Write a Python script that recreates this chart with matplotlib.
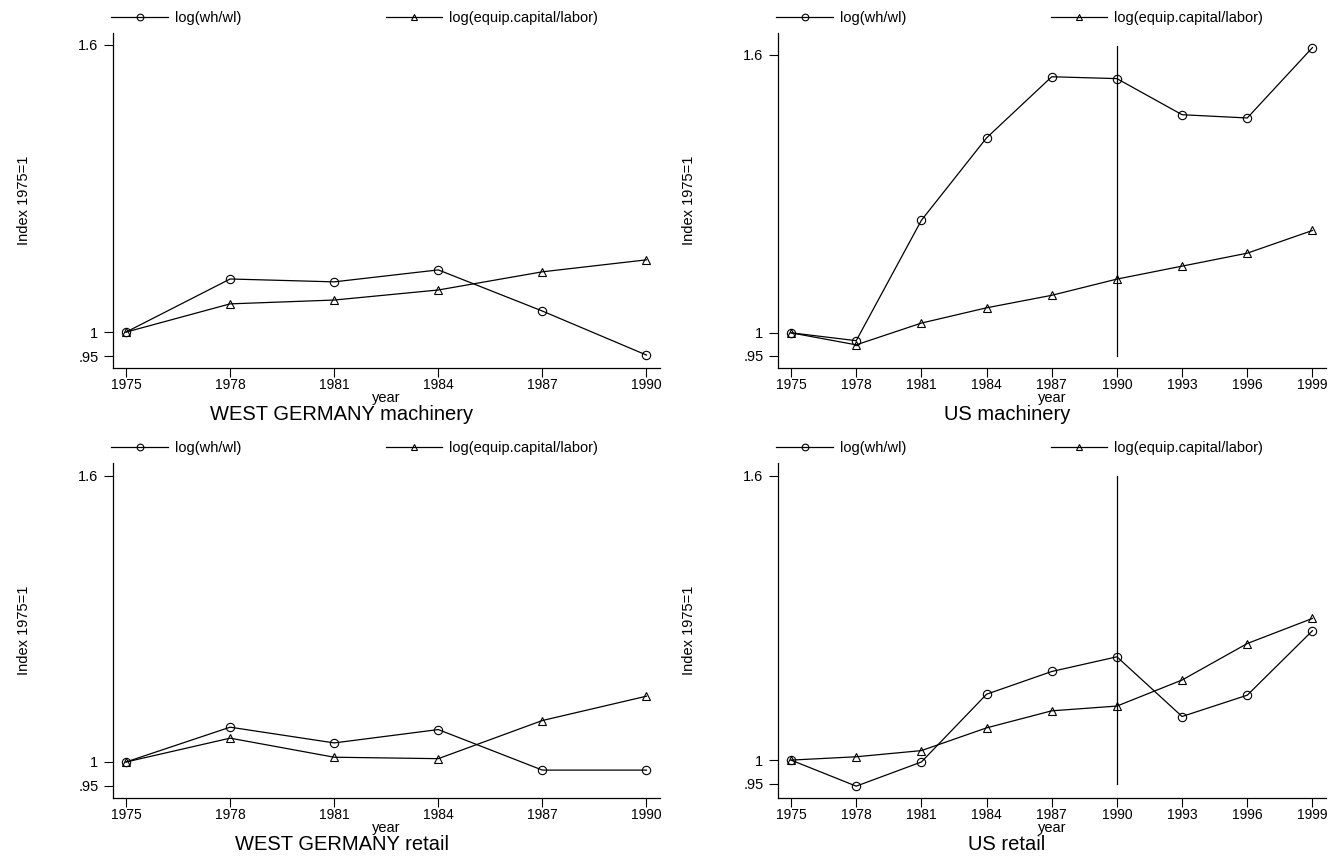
import numpy as np
import matplotlib
matplotlib.use("Agg")
import matplotlib.pyplot as plt

plt.rcParams['font.family'] = ['Liberation Sans', 'DejaVu Sans']

# ── data (index 1975=1) ───────────────────────────────────────────────────────

years_de = [1975, 1978, 1981, 1984, 1987, 1990]
years_us = [1975, 1978, 1981, 1984, 1987, 1990, 1993, 1996, 1999]

de_mach_whwl = [1.000, 1.111, 1.105, 1.130, 1.044, 0.952]
de_mach_equip = [1.000, 1.059, 1.067, 1.088, 1.126, 1.151]

us_mach_whwl = [1.000, 0.983, 1.243, 1.421, 1.553, 1.549, 1.471, 1.464, 1.616]
us_mach_equip = [1.000, 0.974, 1.021, 1.054, 1.081, 1.116, 1.144, 1.172, 1.221]

de_ret_whwl = [1.000, 1.073, 1.040, 1.068, 0.983, 0.983]
de_ret_equip = [1.000, 1.050, 1.010, 1.007, 1.087, 1.138]

us_ret_whwl = [1.000, 0.945, 0.996, 1.139, 1.187, 1.218, 1.092, 1.137, 1.273]
us_ret_equip = [1.000, 1.007, 1.020, 1.068, 1.104, 1.114, 1.169, 1.246, 1.299]

titles = ["WEST GERMANY machinery", "US machinery",
          "WEST GERMANY retail", "US retail"]
series_labels = ["log(wh/wl)", "log(equip.capital/labor)"]
ytick_vals = [0.95, 1.0, 1.6]
ytick_text = [".95", "1", "1.6"]
vline_year = 1990
vline_span = {1: (0.95, 1.62), 3: (0.95, 1.60)}

panels = [
    (years_de, de_mach_whwl, de_mach_equip),
    (years_us, us_mach_whwl, us_mach_equip),
    (years_de, de_ret_whwl, de_ret_equip),
    (years_us, us_ret_whwl, us_ret_equip),
]

# ── layout (pixel positions of the reference) ─────────────────────────────────

W, H = 1330, 857
fig = plt.figure(figsize=(W / 100, H / 100), dpi=100)

ax_left = [113, 778]
ax_right = [660, 1326]
ax_top = [33, 463]
ax_bot = [368, 798]
title_x = [342, 1007]      # titles sit centred on the whole panel, not the plot
title_y = [415, 845]
ylims = [(0.925, 1.625), (0.924, 1.6475), (0.9245, 1.627), (0.92, 1.627)]

for i, (years, whwl, equip) in enumerate(panels):
    col, row = i % 2, i // 2
    l, r = ax_left[col], ax_right[col]
    t, b = ax_top[row], ax_bot[row]
    ax = fig.add_axes([l / W, 1 - b / H, (r - l) / W, (b - t) / H])

    ax.plot(years, whwl, color='black', lw=0.9, marker='o', ms=6,
            mfc='none', mec='black', mew=0.8, label=series_labels[0])
    ax.plot(years, equip, color='black', lw=0.9, marker='^', ms=6,
            mfc='none', mec='black', mew=0.8, label=series_labels[1])

    if i in vline_span:
        lo, hi = vline_span[i]
        ax.plot([vline_year, vline_year], [lo, hi], color='black', lw=0.9)

    # x range padded like Stata
    span = years[-1] - years[0]
    ax.set_xlim(years[0] - span * 0.025, years[-1] + span * 0.026)
    ax.set_ylim(*ylims[i])
    ax.set_xticks(years)
    ax.set_xticklabels([str(y) for y in years], fontsize=10)
    ax.set_yticks(ytick_vals)
    ax.set_yticklabels(ytick_text, fontsize=10.5)
    ax.tick_params(direction='out', length=6.5, width=0.8)
    ax.tick_params(axis='x', pad=1)
    ax.tick_params(axis='y', pad=4)

    for s in ['top', 'right']:
        ax.spines[s].set_visible(False)
    for s in ['left', 'bottom']:
        ax.spines[s].set_linewidth(0.9)

    ax.set_ylabel("Index 1975=1", fontsize=10.5)
    ax.yaxis.set_label_coords(-0.15, 0.5)
    ax.text(0.5, -0.09, "year", transform=ax.transAxes, ha='center',
            va='center', fontsize=10.5)
    fig.text(title_x[col] / W, 1 - title_y[row] / H, titles[i],
             ha='center', va='center', fontsize=14.5)

    ax.legend(loc='center left', bbox_to_anchor=(-0.003, 1 + 15 / (b - t)),
              ncol=2, frameon=False, fontsize=10.5, handlelength=3.9,
              handletextpad=0.45, columnspacing=9.9, borderaxespad=0.0,
              borderpad=0.0, markerscale=0.8)

plt.savefig("out.png", dpi=100)
